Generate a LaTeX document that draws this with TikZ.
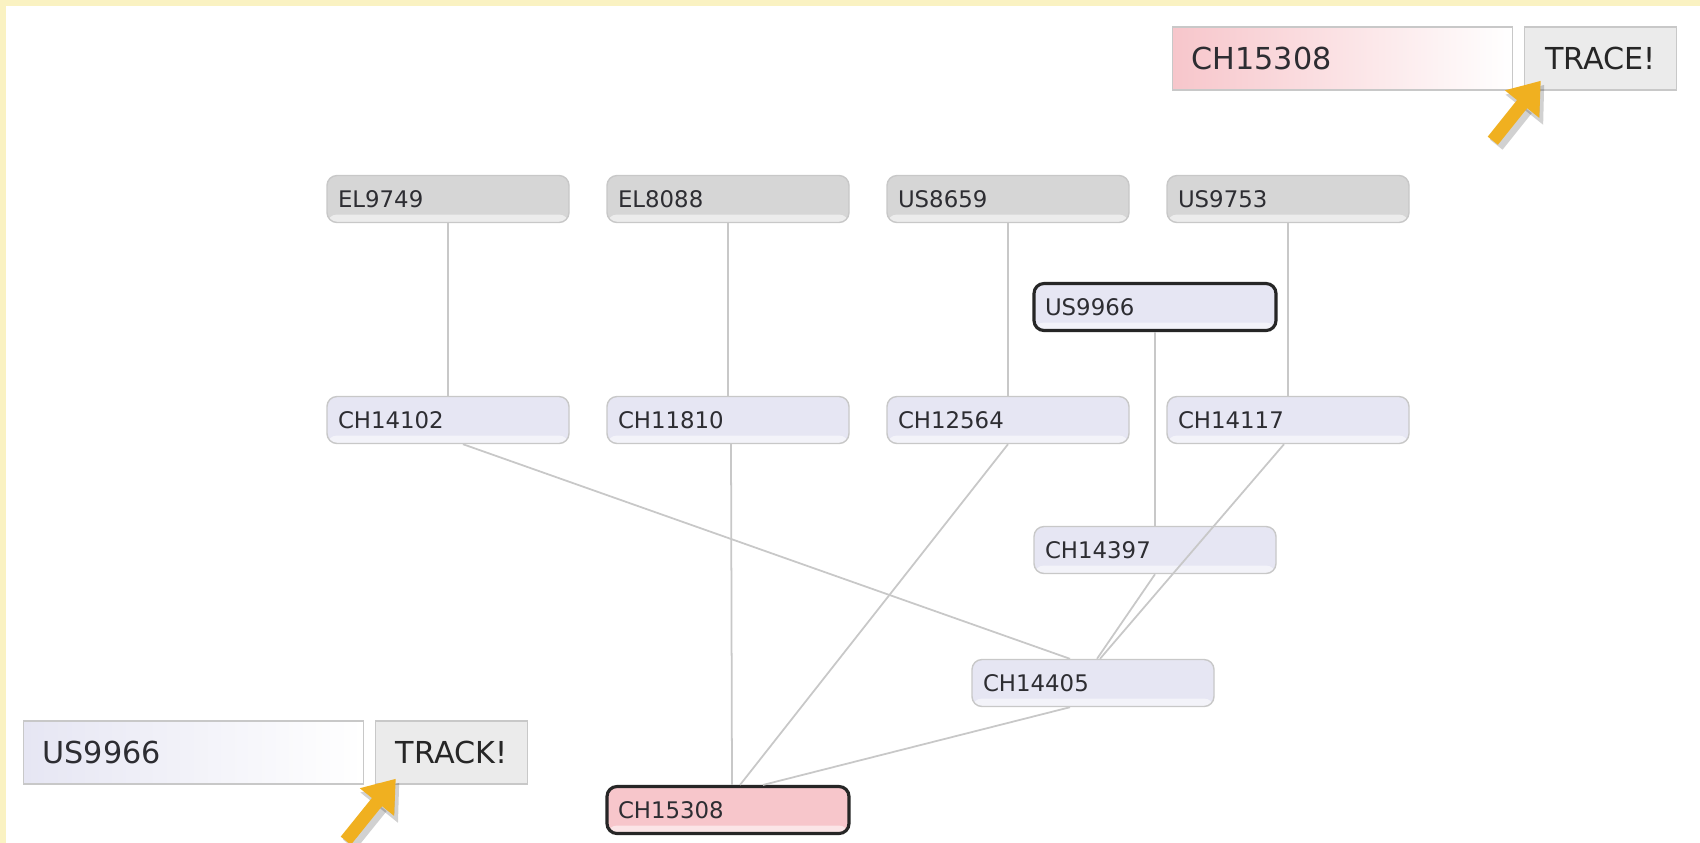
\documentclass[tikz,border=0pt]{standalone}
\usepackage{fontspec}
\setmainfont{DejaVu Sans}
\usetikzlibrary{arrows.meta,positioning}
\definecolor{colgray}{RGB}{214,214,214}
\definecolor{collav}{RGB}{230,230,243}
\definecolor{colpink}{RGB}{247,198,203}
\definecolor{colline}{RGB}{200,200,200}
\definecolor{colbtn}{RGB}{235,235,235}
\definecolor{colarrow}{RGB}{240,176,32}
\definecolor{colframe}{RGB}{250,242,194}
\definecolor{coltext}{RGB}{45,45,50}
\tikzstyle{rec}=[draw=colline, rounded corners=0.1cm, minimum width=2.42cm, minimum height=0.47cm, inner xsep=0.11cm, text width=2.2cm, align=left, text=coltext, font=\fontsize{6.5}{7}\selectfont, path picture={\fill[white,opacity=0.55] (path picture bounding box.south west) rectangle ([yshift=0.08cm]path picture bounding box.south east);}]
\tikzstyle{root}=[rec, fill=colgray]
\tikzstyle{child}=[rec, fill=collav]
\tikzstyle{hit}=[draw=black!85, line width=0.9pt]
\tikzstyle{field}=[draw=colline, minimum width=3.4cm, minimum height=0.63cm, inner xsep=0.19cm, text width=3.02cm, align=left, text=coltext, font=\fontsize{8.6}{10}\selectfont]
\tikzstyle{button}=[draw=colline, fill=colbtn, minimum width=1.52cm, minimum height=0.63cm, text=black!85, font=\fontsize{8.6}{10}\selectfont]
\tikzstyle{link}=[draw=colline, line width=0.5pt]
\tikzstyle{pointer}=[draw=colarrow, line width=0.13cm, -{Triangle[width=0.42cm,length=0.3cm]}]
\tikzstyle{pshadow}=[draw=black, opacity=0.18, line width=0.16cm, -{Triangle[width=0.46cm,length=0.32cm]}, transform canvas={shift={(0.035,-0.04)}}]

\begin{document}
\begin{tikzpicture}[node distance=2.8cm]
    \useasboundingbox (0,0) rectangle (17,-8.42);
    % page with the yellow frame
    \fill[white] (0,0) rectangle (17.2,-8.6);
    \fill[colframe] (0,0) rectangle (0.06,-8.6);
    \fill[colframe] (0,0) rectangle (17.2,-0.06);

    % search fields
    \node [field, left color=colpink, middle color=colpink!25!white, right color=white] (tracein) at (13.425,-0.585) {CH15308};
    \node [button] (trace) [right of=tracein, node distance=2.58cm] {TRACE!};
    \node [field, left color=collav, middle color=collav!40!white, right color=white] (trackin) at (1.935,-7.525) {US9966};
    \node [button] (track) [right of=trackin, node distance=2.58cm] {TRACK!};

    % top row
    \node [root] (el9749) at (4.48,-1.99) {EL9749};
    \node [root] (el8088) [right of=el9749] {EL8088};
    \node [root] (us8659) [right of=el8088] {US8659};
    \node [root] (us9753) [right of=us8659] {US9753};

    % second row
    \node [child] (ch14102) [below of=el9749, node distance=2.21cm] {CH14102};
    \node [child] (ch11810) [right of=ch14102] {CH11810};
    \node [child] (ch12564) [right of=ch11810] {CH12564};
    \node [child] (ch14117) [right of=ch12564] {CH14117};

    \node [child, hit] (us9966) at (11.55,-3.07) {US9966};
    \node [child] (ch14397) [below of=us9966, node distance=2.43cm] {CH14397};
    \node [child] (ch14405) at (10.93,-6.83) {CH14405};
    \node [child, hit, fill=colpink] (ch15308) [below of=ch11810, node distance=3.9cm] {CH15308};

    \path[link]
    (el9749) edge (ch14102)
    (el8088) edge (ch11810)
    (us8659) edge (ch12564)
    (us9753) edge (ch14117)
    (us9966) edge (ch14397)
    ([xshift=0.15cm]ch14102.south) edge ([xshift=-0.23cm]ch14405.north)
    ([xshift=0.03cm]ch11810.south) edge ([xshift=0.04cm]ch15308.north)
    (ch12564.south) edge ([xshift=0.12cm]ch15308.north)
    ([xshift=-0.04cm]ch14117.south) edge ([xshift=0.07cm]ch14405.north)
    (ch14397.south) edge ([xshift=0.04cm]ch14405.north)
    ([xshift=-0.23cm]ch14405.south) edge ([xshift=0.35cm]ch15308.north);

    % pointers to the buttons
    \coordinate (p1) at ([shift={(-0.31,-0.5)}]trace.south west);
    \coordinate (p2) at ([shift={(-0.29,-0.56)}]track.south west);
    \draw[pshadow] (p1) -- ([shift={(0.17,0.10)}]trace.south west);
    \draw[pshadow] (p2) -- ([shift={(0.21,0.06)}]track.south west);
    \draw[pointer] (p1) -- ([shift={(0.17,0.10)}]trace.south west);
    \draw[pointer] (p2) -- ([shift={(0.21,0.06)}]track.south west);
\end{tikzpicture}
\end{document}
